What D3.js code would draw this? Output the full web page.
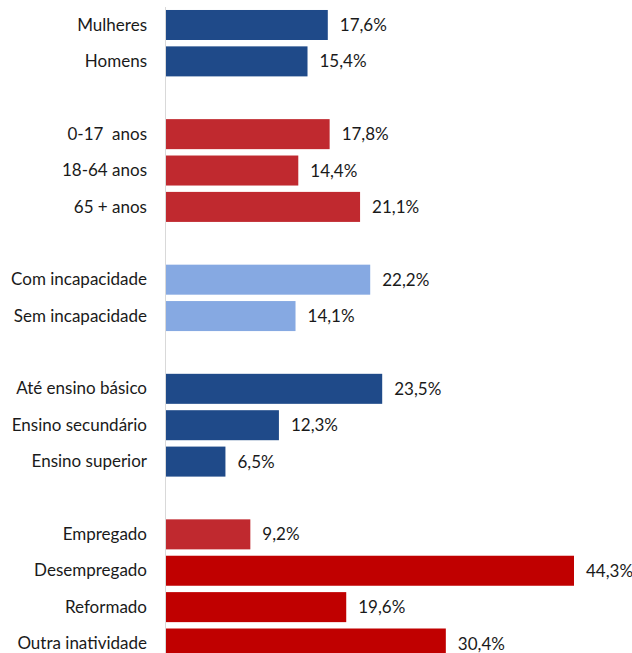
<!DOCTYPE html>
<html>
<head>
<meta charset="utf-8">
<script src="https://cdn.jsdelivr.net/npm/d3@7"></script>
<style>
    body { margin: 0; background: #fff; }
    svg text { font-family: Lato, "Open Sans", sans-serif; fill: #1a1a1a; }
</style>
</head>
<body>
<svg id="chart" width="632" height="653"></svg>
<script>
// categories in order, empty strings mark the gaps between groups
var categories = ["Mulheres", "Homens", "",
    "0-17  anos", "18-64 anos", "65 + anos", "",
    "Com incapacidade", "Sem incapacidade", "",
    "Até ensino básico", "Ensino secundário", "Ensino superior", "",
    "Empregado", "Desempregado", "Reformado", "Outra inatividade"];
var values = [17.6, 15.4, null,
    17.8, 14.4, 21.1, null,
    22.2, 14.1, null,
    23.5, 12.3, 6.5, null,
    9.2, 44.3, 19.6, 30.4];
var valueLabels = ["17,6%", "15,4%", "",
    "17,8%", "14,4%", "21,1%", "",
    "22,2%", "14,1%", "",
    "23,5%", "12,3%", "6,5%", "",
    "9,2%", "44,3%", "19,6%", "30,4%"];
var groups = ["sexo", "sexo", "",
    "idade", "idade", "idade", "",
    "incap", "incap", "",
    "educ", "educ", "educ", "",
    "empregado", "outro", "outro", "outro"];

var colors = {
    sexo: "#1f4a89",
    idade: "#c0292f",
    incap: "#86a9e2",
    educ: "#1f4a89",
    empregado: "#c0292f",
    outro: "#c00000"
};

var svg = d3.select("#chart");

// one slot per row, gaps included
var keys = categories.map(function (d, i) { return i; });
var y = d3.scaleBand().domain(keys).range([6.8, 661.7])
    .paddingInner(0.175).paddingOuter(0.0875);
var x = d3.scaleLinear().domain([0, 44.3]).range([165.5, 574]);

var rows = keys.filter(function (i) { return values[i] !== null; });

svg.selectAll("rect.bar").data(rows).enter().append("rect")
    .attr("class", "bar")
    .attr("x", x(0))
    .attr("y", function (i) { return y(i); })
    .attr("width", function (i) { return x(values[i]) - x(0); })
    .attr("height", y.bandwidth())
    .attr("fill", function (i) { return colors[groups[i]]; });

// vertical axis line
svg.append("line")
    .attr("x1", x(0)).attr("x2", x(0))
    .attr("y1", 7).attr("y2", 653)
    .attr("stroke", "#d9d9d9").attr("stroke-width", 1);

svg.selectAll("text.cat").data(rows).enter().append("text")
    .attr("class", "cat")
    .attr("x", 147)
    .attr("y", function (i) { return y(i) + y.bandwidth() / 2; })
    .attr("dy", "0.33em")
    .style("font-size", "17px")
    .attr("text-anchor", "end")
    .style("white-space", "pre")
    .text(function (i) { return categories[i]; });

svg.selectAll("text.val").data(rows).enter().append("text")
    .attr("class", "val")
    .attr("x", function (i) { return x(values[i]) + 12; })
    .attr("y", function (i) { return y(i) + y.bandwidth() / 2 + 1; })
    .attr("dy", "0.3em")
    .style("font-size", "17px")
    .text(function (i) { return valueLabels[i]; });
</script>
</body>
</html>
